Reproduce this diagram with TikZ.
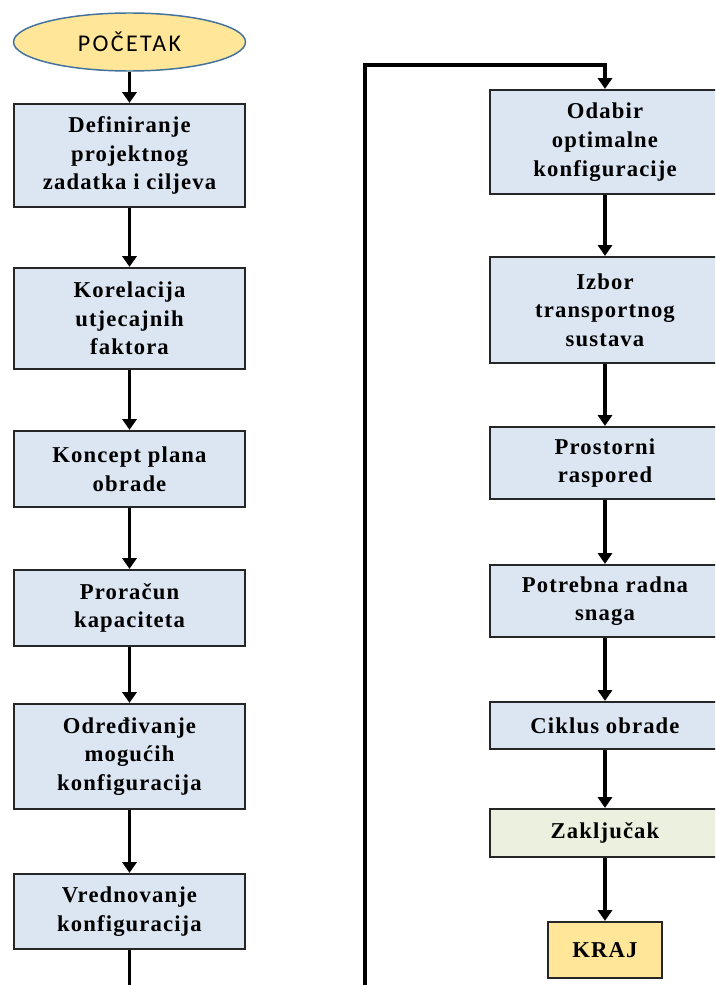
\documentclass[tikz,border=0pt]{standalone}
\usepackage{fontspec}
\usetikzlibrary{shapes.geometric,arrows.meta}
\newfontfamily\boxfont[LetterSpace=5]{Liberation Serif}
\newfontfamily\startfont[LetterSpace=10]{Carlito}
\definecolor{boxblue}{HTML}{DCE6F2}
\definecolor{boxgreen}{HTML}{EBF1DE}
\definecolor{boxyellow}{HTML}{FFE699}
\definecolor{ovalline}{HTML}{41719C}

\begin{document}
\begin{tikzpicture}[x=0.75pt,y=-0.75pt,
    >={Triangle[width=10.5pt,length=8pt]},
    korak/.style={draw=black!85,line width=1.7pt,fill=boxblue,align=center,
      inner sep=0pt,minimum width=173pt,
      font=\boxfont\bfseries\fontsize{17}{21.5}\selectfont},
    tok/.style={->,line width=2.7pt}]
    \useasboundingbox (0,0) rectangle (715,985);
    \clip (0,0) rectangle (715,985);
    % lijevi stupac
    \node[ellipse,draw=ovalline,line width=1.1pt,fill=boxyellow,inner sep=0pt,
      minimum width=174pt,minimum height=43.5pt,
      font=\startfont\fontsize{18}{21}\selectfont] (start) at (129.5,42) {POČETAK};
    \node[korak,minimum height=77.25pt] (d1) at (129.5,155.5) {Definiranje\\projektnog\\zadatka i ciljeva};
    \node[korak,minimum height=75.75pt] (d2) at (129.5,318.5) {Korelacija\\utjecajnih\\faktora};
    \node[korak,minimum height=57pt] (d3) at (129.5,469) {Koncept plana\\obrade};
    \node[korak,minimum height=57pt] (d4) at (129.5,608) {Proračun\\kapaciteta};
    \node[korak,minimum height=78.75pt] (d5) at (129.5,756.5) {Određivanje\\mogućih\\konfiguracija};
    \node[korak,minimum height=56.25pt] (d6) at (129.5,911.5) {Vrednovanje\\konfiguracija};
    % desni stupac
    \node[korak,minimum height=78pt] (o1) at (605,142) {Odabir\\optimalne\\konfiguracije};
    \node[korak,minimum height=79.5pt] (o2) at (605,310) {Izbor\\transportnog\\sustava};
    \node[korak,minimum height=54pt] (o3) at (605,463) {Prostorni\\raspored};
    \node[korak,minimum height=54pt] (o4) at (605,601) {Potrebna radna\\snaga};
    \node[korak,minimum height=35.25pt] (o5) at (605,725.5) {Ciklus obrade};
    \node[korak,fill=boxgreen,minimum height=36pt] (o6) at (605,833) {Zaključak};
    \node[korak,fill=boxyellow,minimum width=85.5pt,minimum height=42pt] (kraj) at (605,950) {KRAJ};
    % veze
    \draw[tok] (start) -- (d1);
    \draw[tok] (d1) -- (d2);
    \draw[tok] (d2) -- (d3);
    \draw[tok] (d3) -- (d4);
    \draw[tok] (d4) -- (d5);
    \draw[tok] (d5) -- (d6);
    \coordinate (petlja) at (365,1010);
    \coordinate (vrh) at (365,65);
    \draw[tok] (d6.south) |- (petlja) -- (vrh) -| (o1.north);
    \draw[tok] (o1) -- (o2);
    \draw[tok] (o2) -- (o3);
    \draw[tok] (o3) -- (o4);
    \draw[tok] (o4) -- (o5);
    \draw[tok] (o5) -- (o6);
    \draw[tok] (o6) -- (kraj);
\end{tikzpicture}
\end{document}
